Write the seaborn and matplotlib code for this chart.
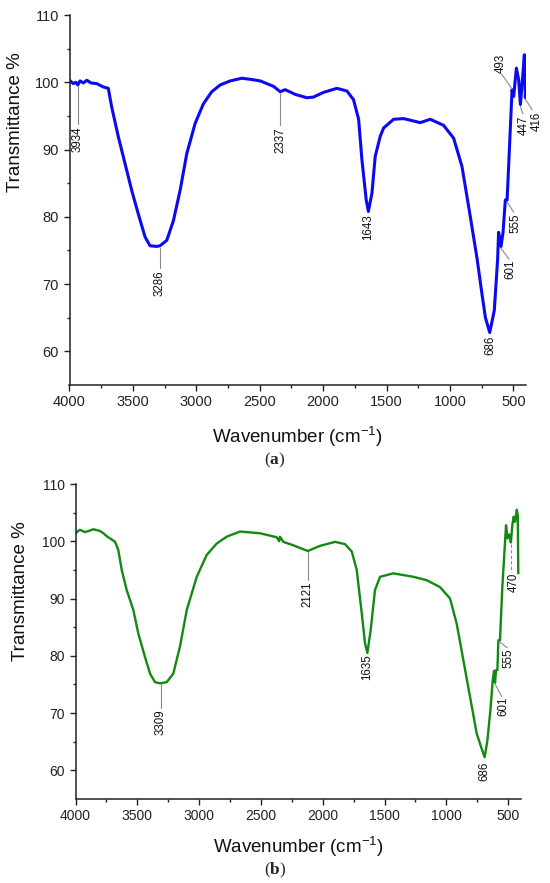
import matplotlib
matplotlib.use("Agg")
import matplotlib.pyplot as plt
import seaborn as sns
import pandas as pd

# ---------------- data ----------------
wn_a = [4000, 3970, 3950, 3935, 3917, 3890, 3864, 3830, 3785, 3733, 3694, 3667,
        3615, 3562, 3509, 3457, 3404, 3365, 3312, 3286, 3233, 3181, 3128, 3075,
        3009, 2944, 2878, 2812, 2733, 2641, 2560, 2496, 2391, 2339, 2299, 2220,
        2128, 2076, 1997, 1891, 1812, 1760, 1720, 1694, 1660, 1643, 1615, 1589,
        1549, 1523, 1444, 1365, 1234, 1155, 1050, 971, 905, 839, 786, 747, 720,
        686, 650, 624, 616, 597, 581, 563, 549, 537, 510, 497, 476, 458, 444,
        426, 413, 405, 400]
t_a = [100.3, 99.8, 100.0, 99.6, 100.2, 99.9, 100.3, 99.9, 99.8, 99.3, 99.1, 96.3,
       91.9, 87.9, 83.9, 80.4, 77.0, 75.7, 75.6, 75.7, 76.5, 79.4, 83.9, 89.4,
       93.9, 96.8, 98.6, 99.6, 100.2, 100.6, 100.4, 100.2, 99.4, 98.6, 98.9, 98.2,
       97.7, 97.8, 98.5, 99.1, 98.7, 97.4, 94.5, 88.5, 82.5, 80.8, 83.5, 89.0,
       92.0, 93.2, 94.5, 94.6, 94.0, 94.5, 93.6, 91.7, 87.5, 80.0, 73.8, 68.5, 65.0,
       62.8, 66.1, 73.6, 77.7, 75.6, 77.7, 82.5, 82.5, 87.5, 98.9, 97.9, 102.1,
       100.4, 96.7, 100.9, 104.1, 97.7, 100.4]

wn_b = [4000, 3985, 3964, 3923, 3880, 3856, 3802, 3775, 3748, 3680, 3654, 3626,
        3586, 3532, 3492, 3438, 3397, 3357, 3316, 3262, 3209, 3155, 3100, 3019,
        2939, 2858, 2777, 2669, 2508, 2372, 2352, 2346, 2319, 2238, 2121, 2022,
        1900, 1820, 1765, 1725, 1684, 1658, 1639, 1612, 1577, 1536, 1429, 1267,
        1159, 1051, 970, 916, 862, 808, 754, 719, 690, 668, 641, 625, 614, 606,
        598, 587, 579, 566, 547, 517, 505, 490, 478, 465, 455, 444, 430, 422, 418]
t_b = [101.3, 101.7, 102.0, 101.6, 101.9, 102.1, 101.8, 101.4, 100.9, 99.9, 98.5,
       95.0, 91.5, 88.0, 83.9, 79.8, 76.9, 75.4, 75.2, 75.4, 76.9, 81.6, 88.0, 93.8,
       97.6, 99.6, 100.8, 101.7, 101.4, 100.7, 100.0, 100.8, 99.9, 99.3, 98.3, 99.2,
       99.9, 99.5, 98.2, 95.0, 87.4, 82.2, 80.5, 84.5, 91.5, 93.8, 94.4, 93.8,
       93.2, 92.0, 90.0, 85.6, 79.2, 72.8, 66.4, 64.1, 62.3, 65.2, 71.1, 75.7, 77.4,
       75.3, 77.5, 77.5, 82.7, 82.7, 92.0, 102.8, 100.5, 101.2, 99.8, 103.0, 104.3,
       103.4, 105.5, 104.5, 94.4]

xticks = [4000, 3500, 3000, 2500, 2000, 1500, 1000, 500]
yticks = [60, 70, 80, 90, 100, 110]

# peak labels: text, line start (x, y), line end (x, y), text top (x, y), dashed
ann_a = [
    ("3934", (3934, 99.4), (3934, 93.8), (3934, 93.5), False),
    ("3286", (3290, 75.3), (3290, 72.4), (3290, 72.1), False),
    ("2337", (2339, 98.4), (2339, 93.6), (2339, 93.3), False),
    ("1643", None, None, (1643, 80.4), False),
    ("686", None, None, (683, 62.3), False),
    ("601", (597, 75.3), (533, 73.7), (523, 73.6), False),
    ("555", (549, 82.2), (497, 80.7), (484, 80.5), False),
    ("493", (510, 99.0), (592, 101.2), (602, 104.3), False),
    ("447", (444, 96.4), (425, 95.3), (418, 95.1), False),
    ("416", (405, 97.5), (352, 95.9), (318, 95.7), False),
]
ann_b = [
    ("3309", (3311, 75.0), (3311, 70.9), (3311, 70.6), False),
    ("2121", (2121, 98.1), (2121, 93.3), (2121, 93.0), False),
    ("1635", None, None, (1639, 80.2), False),
    ("686", None, None, (691, 61.6), False),
    ("601", (606, 75.1), (552, 72.9), (541, 72.8), False),
    ("555", (575, 82.5), (507, 81.4), (497, 81.3), False),
    ("470", (478, 99.6), (478, 94.6), (452, 94.5), True),
]

# ---------------- style ----------------
sns.set_theme(style="ticks")
plt.rcParams["font.family"] = ["Liberation Sans", "DejaVu Sans"]
plt.rcParams["mathtext.fontset"] = "custom"
plt.rcParams["mathtext.sf"] = "Liberation Sans"
plt.rcParams["mathtext.rm"] = "Liberation Serif"
plt.rcParams["mathtext.bf"] = "Liberation Serif:bold"

fig = plt.figure(figsize=(5.5, 8.83), dpi=100)
W, H = 550.0, 883.0
ax1 = fig.add_axes([69.5 / W, 1 - 385 / H, (526 - 69.5) / W, (385 - 15) / H])
ax2 = fig.add_axes([75.5 / W, 1 - 799 / H, (520.5 - 75.5) / W, (799 - 484) / H])

df_a = pd.DataFrame({"wn": wn_a, "T": t_a})
df_b = pd.DataFrame({"wn": wn_b, "T": t_b})

sns.lineplot(data=df_a, x="wn", y="T", ax=ax1, color="#0a0af0", lw=2.2,
             sort=False, estimator=None)
sns.lineplot(data=df_b, x="wn", y="T", ax=ax2, color="#118a11", lw=1.7,
             sort=False, estimator=None)

for ax, anns, tsize in ((ax1, ann_a, 10.5), (ax2, ann_b, 10.0)):
    ax.set_xlim(4000, 400)
    ax.set_ylim(55, 110)
    ax.set_xticks(xticks)
    ax.set_yticks(yticks)
    ax.set_xticks([3750, 3250, 2750, 2250, 1750, 1250, 750], minor=True)
    ax.set_yticks([65, 75, 85, 95, 105], minor=True)
    ax.tick_params(which="major", direction="out", length=4.5, width=1.0,
                   labelsize=tsize, colors="#222222", pad=3)
    ax.tick_params(which="minor", direction="out", length=2.5, width=1.0,
                   colors="#222222")
    for s in ("top", "right"):
        ax.spines[s].set_visible(False)
    for s in ("left", "bottom"):
        ax.spines[s].set_linewidth(1.1)
        ax.spines[s].set_color("#222222")
    ax.set_xlabel("Wavenumber (cm$^{\\mathsf{-1}}$)", fontsize=13.5, color="#111111")
    ax.set_ylabel("Transmittance %", fontsize=13.5, color="#111111")
    for text, p0, p1, pt, dashed in anns:
        if p0 is not None:
            ax.plot([p0[0], p1[0]], [p0[1], p1[1]], color="#8a8a8a", lw=0.8,
                    ls=(0, (3, 2)) if dashed else "-", clip_on=False)
        ax.text(pt[0], pt[1], text, rotation=90, ha="center", va="top",
                fontsize=8.3, color="#111111", clip_on=False)

ax1.xaxis.set_label_coords(0.5, -0.105)
ax2.xaxis.set_label_coords(0.5, -0.112)
ax1.yaxis.set_label_coords(-0.10, 0.71)
ax2.yaxis.set_label_coords(-0.105, 0.66)

fig.text(0.5, 1 - 460 / H, "$\\mathrm{(}\\mathbf{a}\\mathrm{)}$", ha="center",
         va="center", fontsize=12.5)
fig.text(0.5, 1 - 870 / H, "$\\mathrm{(}\\mathbf{b}\\mathrm{)}$", ha="center",
         va="center", fontsize=12.5)

fig.savefig("out.png", dpi=100, facecolor="white")
